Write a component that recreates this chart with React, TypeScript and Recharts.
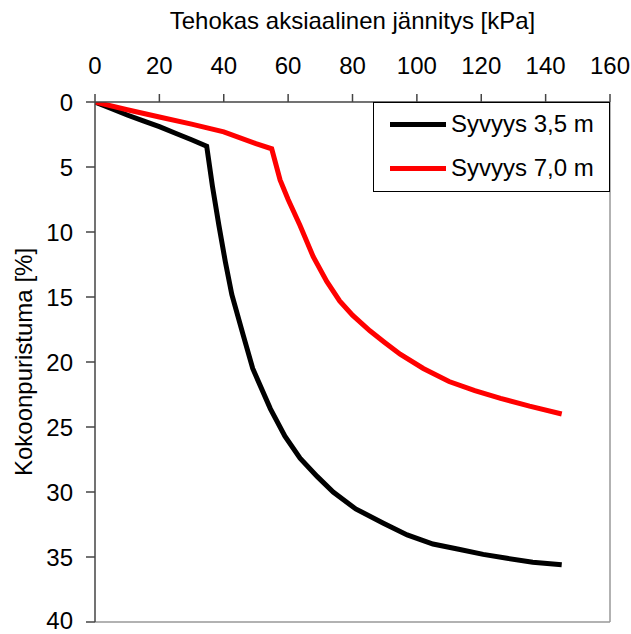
import { LineChart, Line, XAxis, YAxis, ReferenceLine } from "recharts";

// Oedometer test: effective axial stress [kPa] vs. compression [%]
const stress35 = [0, 5, 10, 15, 20, 25, 30, 34.7, 36.5, 38.5, 40.5, 42.5, 46, 49, 54.5, 59, 63.7, 69, 74, 81, 89.6, 97, 105, 113, 120.6, 128, 136, 145];
const strain35 = [0, 0.5, 1.0, 1.45, 1.9, 2.4, 2.9, 3.4, 6.5, 9.5, 12.3, 14.8, 17.9, 20.5, 23.6, 25.7, 27.4, 28.8, 30.0, 31.3, 32.4, 33.3, 34.0, 34.4, 34.8, 35.1, 35.4, 35.6];

const stress70 = [0, 10, 20, 30, 40, 50, 54.9, 57.5, 60, 63.7, 67.8, 72, 76, 80, 85.4, 90, 94.8, 102, 110, 118, 126, 135, 145];
const strain70 = [0, 0.6, 1.15, 1.7, 2.3, 3.2, 3.6, 6.0, 7.5, 9.5, 11.9, 13.8, 15.3, 16.4, 17.6, 18.5, 19.4, 20.5, 21.5, 22.2, 22.8, 23.4, 24.0];

const stressTicks = [0, 20, 40, 60, 80, 100, 120, 140, 160];
const strainTicks = [0, 5, 10, 15, 20, 25, 30, 35, 40];

const seriesNames = ["Syvyys 3,5 m", "Syvyys 7,0 m"];
const seriesColors = ["#000000", "#ff0000"];

const toPoints = (xs: number[], ys: number[]) => xs.map((x, i) => ({ x, y: ys[i] }));
const series = [toPoints(stress35, strain35), toPoints(stress70, strain70)];

const FONT = "'Liberation Sans', Arial, sans-serif";
const tickStyle = { fontSize: 24, fill: "#000", fontFamily: FONT };

function LegendBox() {
  return (
    <div
      style={{
        position: "absolute",
        left: 373,
        top: 102,
        width: 237,
        height: 90,
        boxSizing: "border-box",
        border: "1px solid #000",
        background: "#fff",
        fontFamily: FONT,
        fontSize: 24,
        lineHeight: "28px",
      }}
    >
      {seriesNames.map((name, i) => (
        <div key={name} style={{ position: "absolute", left: 0, top: 7 + i * 44, height: 28, display: "flex", alignItems: "center" }}>
          <span style={{ display: "inline-block", width: 56, height: 5, background: seriesColors[i], marginLeft: 16, marginRight: 5 }} />
          <span>{name}</span>
        </div>
      ))}
    </div>
  );
}

export default function App() {
  return (
    <div style={{ position: "absolute", left: 0, top: 0, width: 631, height: 634, background: "#fff" }}>
      <LineChart width={631} height={634} margin={{ top: 62, right: 21, bottom: 12, left: 35 }}>
        <XAxis
          type="number"
          dataKey="x"
          orientation="top"
          domain={[0, 160]}
          ticks={stressTicks}
          height={40}
          tick={tickStyle}
          tickSize={8}
          tickMargin={20}
          stroke="#444"
          strokeWidth={1.5}
          allowDataOverflow
          label={{
            content: (p: any) => {
              const vb = p.viewBox;
              return (
                <text x={vb.x + vb.width / 2} y={29} textAnchor="middle" fontSize={24} fontFamily={FONT} fill="#000">
                  Tehokas aksiaalinen jännitys [kPa]
                </text>
              );
            },
          }}
        />
        <YAxis
          type="number"
          dataKey="y"
          reversed
          domain={[0, 40]}
          ticks={strainTicks}
          width={60}
          tick={tickStyle}
          tickSize={9}
          tickMargin={13}
          stroke="#444"
          strokeWidth={1.5}
          allowDataOverflow
          label={{
            content: (p: any) => {
              const vb = p.viewBox;
              const cy = vb.y + vb.height / 2;
              return (
                <text x={32} y={cy} transform={`rotate(-90 32 ${cy})`} textAnchor="middle" fontSize={24} fontFamily={FONT} fill="#000">
                  Kokoonpuristuma [%]
                </text>
              );
            },
          }}
        />
        <ReferenceLine x={160} stroke="#999" strokeWidth={1.5} />
        <ReferenceLine y={40} stroke="#999" strokeWidth={1.5} />
        {series.map((data, i) => (
          <Line
            key={seriesNames[i]}
            data={data}
            dataKey="y"
            name={seriesNames[i]}
            type="linear"
            stroke={seriesColors[i]}
            strokeWidth={5}
            dot={false}
            isAnimationActive={false}
          />
        ))}
      </LineChart>
      <LegendBox />
    </div>
  );
}
